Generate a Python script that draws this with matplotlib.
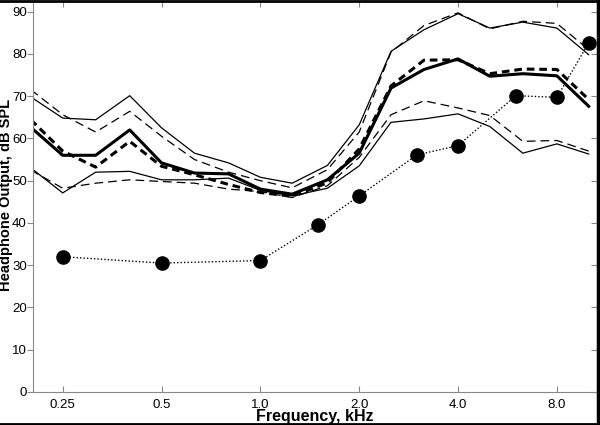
import numpy as np
import matplotlib
matplotlib.use('Agg')
from matplotlib import pyplot as plt
from matplotlib.lines import Line2D

plt.rcParams['font.family'] = ['Liberation Sans', 'DejaVu Sans']

# 1/3-octave frequencies, kHz
freqs = [0.2, 0.25, 0.315, 0.4, 0.5, 0.63, 0.8, 1.0, 1.25, 1.6, 2.0, 2.5, 3.15, 4.0, 5.0, 6.3, 8.0, 10.0]

upper_solid = [69.8, 64.8, 64.4, 70.1, 62.5, 56.5, 54.2, 50.8, 49.4, 53.6, 63.2, 80.6, 85.7, 89.5, 86.1, 87.5, 86.1, 79.8]
upper_dashed = [71.5, 65.6, 61.5, 66.4, 60.5, 55.0, 52.0, 50.0, 48.3, 52.6, 61.5, 80.4, 86.7, 89.7, 85.9, 87.7, 87.2, 81.0]
mean_solid = [62.6, 56.0, 56.0, 62.0, 54.2, 51.8, 51.6, 48.0, 46.8, 50.2, 56.5, 71.9, 76.3, 78.8, 74.7, 75.3, 74.8, 67.6]
mean_dashed = [64.4, 57.0, 53.2, 59.3, 53.4, 51.4, 49.1, 47.2, 46.3, 49.5, 57.5, 72.4, 78.5, 78.6, 75.3, 76.4, 76.3, 69.2]
lower_solid = [53.0, 47.1, 52.0, 52.2, 50.2, 50.2, 50.6, 47.7, 46.4, 48.2, 53.5, 63.8, 64.6, 65.8, 62.8, 56.5, 58.7, 56.3]
lower_dashed = [52.5, 48.2, 49.4, 50.2, 49.8, 49.4, 48.0, 47.4, 46.0, 48.8, 55.5, 65.6, 68.9, 67.2, 65.4, 59.3, 59.5, 57.0]

# dotted series with markers
dot_freqs = [0.25, 0.5, 1.0, 1.5, 2.0, 3.0, 4.0, 6.0, 8.0, 10.0]
dot_vals = [32.0, 30.5, 31.1, 39.6, 46.4, 56.1, 58.3, 70.1, 69.7, 82.6]

tick_freqs = [0.25, 0.5, 1.0, 2.0, 4.0, 8.0]
tick_labels = ['0.25', '0.5', '1.0', '2.0', '4.0', '8.0']

fig = plt.figure(figsize=(6, 4.25), dpi=100)
ax = fig.add_axes([33/600, 33/425, 564/600, 391/425])

ax.plot(freqs, upper_solid, color='black', lw=0.9)
ax.plot(freqs, lower_solid, color='black', lw=0.9)
ax.plot(freqs, upper_dashed, color='black', lw=0.9, dashes=(7, 4))
ax.plot(freqs, lower_dashed, color='black', lw=0.9, dashes=(7, 4))
ax.plot(freqs, mean_solid, color='black', lw=2.2)
ax.plot(freqs, mean_dashed, color='black', lw=2.2, dashes=(2.5, 1.6))
ax.plot(dot_freqs, dot_vals, color='black', lw=1.0, ls=(0, (1, 1.5)),
        marker='o', markersize=9.5)

ax.set_xscale('log')
ax.set_xlim(0.203, 10.6)
ax.set_ylim(0, 92.5)
ax.set_xticks(tick_freqs)
ax.set_xticklabels(tick_labels)
ax.xaxis.set_minor_locator(matplotlib.ticker.NullLocator())
ax.set_yticks(range(0, 91, 10))

for s in ax.spines.values():
    s.set_color('#888888')
    s.set_linewidth(0.8)

ax.tick_params(axis='x', direction='in', top=True, length=4, color='#888888',
               labelsize=9.5, pad=5)
ax.tick_params(axis='y', direction='out', length=4, color='#888888',
               labelsize=9.5, pad=0.5)
# inward ticks on the right edge
ax2 = ax.secondary_yaxis('right')
ax2.set_yticks(range(0, 91, 10))
ax2.tick_params(direction='in', length=4, color='#888888', labelright=False)
ax2.spines['right'].set_visible(False)

fig.text(315/600, 1 - 417/425, 'Frequency, kHz', fontsize=11.5, fontweight='bold',
         ha='center', va='center')
fig.text(6.5/600, 1 - 195/425, 'Headphone Output, dB SPL', fontsize=10.5, fontweight='bold',
         ha='center', va='center', rotation=90)

# black border on the figure edges (top, right, bottom)
fig.add_artist(Line2D([0, 1], [0.998, 0.998], color='black', lw=2, transform=fig.transFigure))
fig.add_artist(Line2D([0.997, 0.997], [0, 1], color='black', lw=2.5, transform=fig.transFigure))
fig.add_artist(Line2D([0, 1], [0.003, 0.003], color='black', lw=2, transform=fig.transFigure))

fig.savefig('out.png', dpi=100)
